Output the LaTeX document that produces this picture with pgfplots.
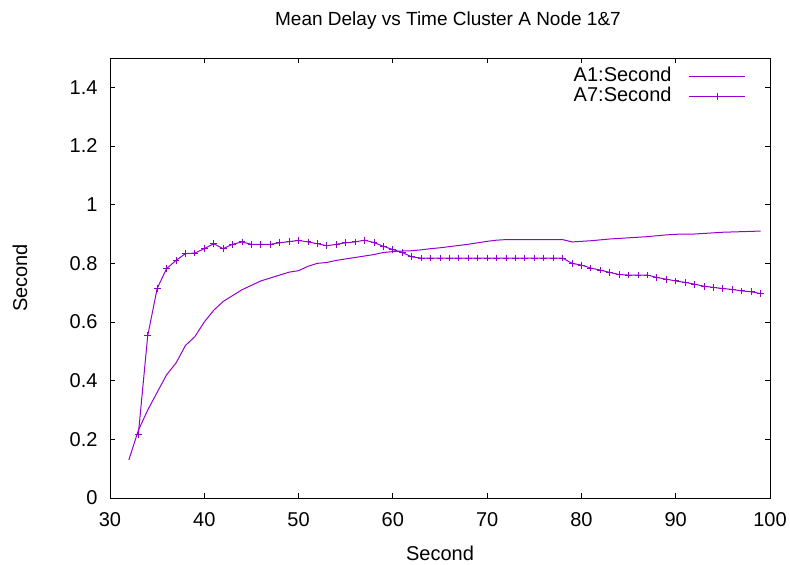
\documentclass[border=0pt]{standalone}
\usepackage{pgfplots}
\pgfplotsset{compat=1.18}
\usepackage{fontspec}
\setmainfont{Liberation Sans}
\definecolor{gpviolet}{HTML}{9400D3}

\begin{document}
\begin{tikzpicture}
\begin{axis}[
  scale only axis, width=330pt, height=220pt,
  xmin=30, xmax=100, ymin=0, ymax=1.5,
  xtick={30,40,50,60,70,80,90,100},
  ytick={0,0.2,0.4,0.6,0.8,1,1.2,1.4},
  /pgf/number format/assume math mode=true,
  font=\fontsize{10}{12}\selectfont,
  tick align=inside, major tick length=2.5pt,
  axis line style={black, line width=0.5pt},
  tick style={black, line width=0.5pt},
  xticklabel style={yshift=-3.5pt},
  yticklabel style={xshift=-2.7pt},
  title={Mean Delay vs Time Cluster A Node 1\&7},
  every axis title shift=0pt,
  title style={at={(axis description cs:0.5,1.084)}, anchor=center, xshift=4pt,
    font=\fontsize{9.5}{11}\selectfont},
  xlabel={Second},
  xlabel style={at={(axis description cs:0.5,0)}, anchor=center, yshift=-27.5pt},
  ylabel={Second},
  ylabel style={at={(axis description cs:-0.1364,0.5)}, anchor=center},
  legend plot pos=right,
  legend cell align=right,
  legend style={draw=none, fill=none, inner sep=0pt, column sep=8.5pt, row sep=0pt,
    at={(1,1)}, anchor=north east, xshift=-12pt, yshift=-4pt,
    nodes={inner sep=0pt, text height=7.5pt, text depth=2.5pt}},
  legend image code/.code={\draw[mark repeat=2, mark phase=2, #1]
    plot coordinates {(0pt,0pt) (14pt,0pt) (28pt,0pt)};},
]
\addplot[gpviolet, line width=0.5pt, no markers] table {
x y
32 0.13
33 0.23
34 0.30
35 0.36
36 0.42
37 0.46
38 0.52
39 0.55
40 0.60
41 0.64
42 0.67
43 0.69
44 0.71
45 0.725
46 0.74
47 0.75
48 0.76
49 0.77
50 0.775
51 0.79
52 0.80
53 0.803
54 0.81
55 0.815
56 0.82
57 0.825
58 0.83
59 0.837
60 0.84
61 0.842
62 0.843
63 0.846
64 0.85
65 0.853
66 0.857
67 0.861
68 0.865
69 0.87
70 0.875
71 0.879
72 0.881
73 0.881
74 0.881
75 0.881
76 0.881
77 0.881
78 0.881
79 0.873
80 0.875
81 0.877
82 0.88
83 0.883
84 0.885
85 0.887
86 0.889
87 0.891
88 0.894
89 0.897
90 0.899
91 0.9
92 0.9
93 0.902
94 0.904
95 0.906
96 0.907
97 0.908
98 0.909
99 0.91
};
\addlegendentry{A1:Second}
\addplot[gpviolet, line width=0.5pt, mark=+, mark size=1.7pt, mark options={line width=0.5pt}] table {
x y
33 0.215
34 0.553
35 0.714
36 0.782
37 0.81
38 0.833
39 0.835
40 0.85
41 0.867
42 0.85
43 0.865
44 0.873
45 0.865
46 0.865
47 0.865
48 0.87
49 0.874
50 0.878
51 0.873
52 0.867
53 0.86
54 0.865
55 0.87
56 0.873
57 0.879
58 0.871
59 0.858
60 0.847
61 0.837
62 0.822
63 0.818
64 0.818
65 0.818
66 0.818
67 0.818
68 0.818
69 0.818
70 0.818
71 0.818
72 0.818
73 0.818
74 0.818
75 0.818
76 0.818
77 0.818
78 0.818
79 0.80
80 0.794
81 0.784
82 0.777
83 0.769
84 0.762
85 0.76
86 0.76
87 0.76
88 0.752
89 0.746
90 0.74
91 0.735
92 0.729
93 0.722
94 0.718
95 0.714
96 0.711
97 0.706
98 0.703
99 0.697
};
\addlegendentry{A7:Second}
\end{axis}
\pgfresetboundingbox
\path[use as bounding box] (current axis.south west) ++(-55pt,-33pt) rectangle ([shift={(10pt,29pt)}]current axis.north east);
\end{tikzpicture}
\end{document}
